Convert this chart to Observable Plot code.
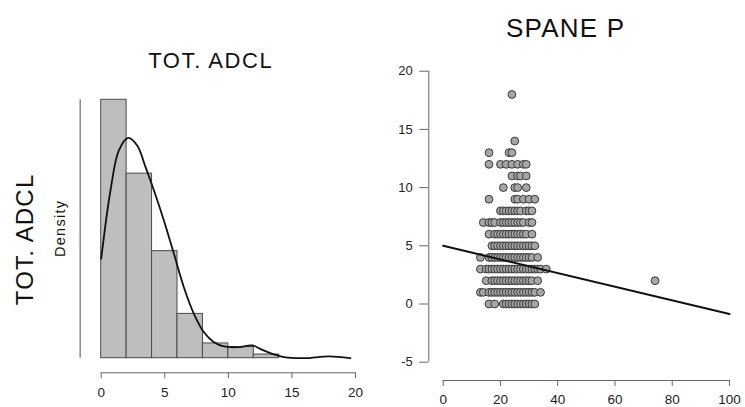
<!DOCTYPE html>
<html><head><meta charset="utf-8">
<script src="https://cdn.jsdelivr.net/npm/d3@7"></script>
<script src="https://cdn.jsdelivr.net/npm/@observablehq/plot@0.6"></script>
<style>
body{margin:0;background:#fff;}
#wrap{position:relative;width:745px;height:407px;overflow:hidden;font-family:"Liberation Sans",Arial,sans-serif;color:#111;background:#fff;}
.lbl{position:absolute;white-space:nowrap;line-height:1;}
#left,#right{position:absolute;top:0;}
</style></head><body>
<div id="wrap">
  <div id="left" style="left:0"></div>
  <div id="right" style="left:370px"></div>
  <div class="lbl" style="left:210px;top:61px;font-size:22px;letter-spacing:1.6px;padding-left:1.6px;transform:translate(-50%,-50%)">TOT. ADCL</div>
  <div class="lbl" style="left:565px;top:27.5px;font-size:26px;letter-spacing:1.2px;padding-left:1.2px;transform:translate(-50%,-50%)">SPANE P</div>
  <div class="lbl" style="left:25px;top:240px;font-size:24px;letter-spacing:1.2px;padding-left:1.2px;transform:translate(-50%,-50%) rotate(-90deg)">TOT. ADCL</div>
  <div class="lbl" style="left:60px;top:229px;font-size:14.5px;letter-spacing:1.3px;padding-left:1.3px;transform:translate(-50%,-50%) rotate(-90deg)">Density</div>
</div>
<script>
// Histogram of TOT. ADCL
const histEdges = [0, 2, 4, 6, 8, 10, 12, 14];
const histCounts = [70, 50, 29, 12, 4, 3, 1];
const histTicks = [0, 5, 10, 15, 20];
// Kernel density curve
const densX = [0, 0.73, 1.39, 2.12, 2.83, 3.49, 4.15, 4.93, 5.72, 6.5, 7.29, 8.08, 8.87, 9.65, 10.7, 11.9, 12.5, 13.3, 14.4, 16, 17.9, 19.6];
const densY = [0.0797, 0.1344, 0.1665, 0.1766, 0.1705, 0.1531, 0.1344, 0.1104, 0.0837, 0.0569, 0.0356, 0.0208, 0.0128, 0.0094, 0.0088, 0.0102, 0.0075, 0.0040, 0.0008, 0.0000, 0.0014, 0.0000];

// Scatter SPANE P (rows of points by y value)
const spaneRowY = [18, 14, 13, 12, 11, 10, 9, 8, 7, 6, 5, 4, 3, 2, 1, 0];
const spaneRowX = [
  [24],
  [25],
  [16, 23, 24],
  [16, 20, 22, 24, 26, 28, 29],
  [24, 26, 27, 29],
  [21, 25, 26, 29],
  [16, 25, 26, 28, 30, 32],
  [20, 21, 22, 23, 24, 25, 26, 27, 29, 30, 31],
  [14, 16, 17, 18, 20, 21, 22, 23, 24, 25, 26, 27, 28, 30, 31],
  [16, 18, 19, 20, 21, 22, 23, 24, 25, 26, 27, 28, 29, 31],
  [17, 18, 19, 20, 21, 22, 23, 24, 25, 26, 27, 28, 29, 30, 31, 32],
  [13, 16, 17, 18, 19, 20, 21, 22, 23, 24, 25, 26, 27, 28, 29, 30, 31, 33],
  [13, 15, 16, 17, 18, 19, 20, 21, 22, 23, 24, 25, 26, 27, 28, 29, 30, 31, 32, 33, 34, 36],
  [15, 17, 18, 19, 20, 21, 22, 23, 24, 25, 26, 27, 28, 29, 30, 31, 33],
  [13, 14, 16, 17, 18, 19, 20, 21, 22, 23, 24, 25, 26, 27, 28, 29, 30, 31, 32, 34],
  [16, 18, 21, 22, 23, 24, 25, 26, 27, 28, 29, 30, 31, 32]
];
const outlierX = [74];
const outlierY = [2];
const fitX = [0, 100];
const fitY = [5.0, -0.86];
const spaneXTicks = [0, 20, 40, 60, 80, 100];
const spaneYTicks = [-5, 0, 5, 10, 15, 20];

const font = "Liberation Sans, Arial, sans-serif";
const total = d3.sum(histCounts);
const bins = histCounts.map((c, i) => ({x1: histEdges[i], x2: histEdges[i + 1], d: c / (total * (histEdges[i + 1] - histEdges[i]))}));
const curve = densX.map((x, i) => ({x, y: densY[i]}));

const left = Plot.plot({
  width: 370, height: 407,
  marginLeft: 100.7, marginRight: 15, marginTop: 99.3, marginBottom: 49.3,
  style: {fontFamily: font, background: "transparent", color: "#222", overflow: "visible"},
  x: {domain: [0, 20], axis: null},
  y: {domain: [0, d3.max(bins, b => b.d)], axis: null},
  marks: [
    Plot.rect(bins, {x1: "x1", x2: "x2", y1: () => 0, y2: "d", fill: "#bebebe", stroke: "#4a4a4a", strokeWidth: 1}),
    Plot.line(curve, {x: "x", y: "y", curve: "catmull-rom", stroke: "#111", strokeWidth: 1.8}),
    Plot.ruleX([0], {dx: -21, stroke: "#8a8a8a", strokeWidth: 1.5}),
    Plot.ruleY([0], {dy: 14.6, stroke: "#666"}),
    Plot.axisX(histTicks, {anchor: "bottom", tickSize: 6, tickPadding: 9, dy: 14.6, fontSize: 13.5, stroke: "#666", fill: "#222", label: null, tickFormat: d => String(d)})
  ]
});
document.getElementById("left").appendChild(left);

const pts = [];
spaneRowY.forEach((y, i) => spaneRowX[i].forEach(x => pts.push({x, y})));
outlierX.forEach((x, i) => pts.push({x, y: outlierY[i]}));
const fit = fitX.map((x, i) => ({x, y: fitY[i]}));

const right = Plot.plot({
  width: 375, height: 407,
  marginLeft: 72.7, marginRight: 16, marginTop: 70.7, marginBottom: 45.3,
  style: {fontFamily: font, background: "transparent", color: "#222", overflow: "visible"},
  x: {domain: [0, 100], axis: null},
  y: {domain: [-5, 20], axis: null},
  marks: [
    Plot.dot(pts, {x: "x", y: "y", r: 3.9, fill: "#a6a6a6", stroke: "#3a3a3a", strokeWidth: 1}),
    Plot.line(fit, {x: "x", y: "y", stroke: "#111", strokeWidth: 2}),
    Plot.ruleY([-5], {dy: 18.3, stroke: "#666"}),
    Plot.ruleX([0], {dx: -14.4, stroke: "#666"}),
    Plot.axisX(spaneXTicks, {anchor: "bottom", tickSize: 6, tickPadding: 8, dy: 18.3, fontSize: 13.5, stroke: "#666", fill: "#222", label: null, tickFormat: d => String(d)}),
    Plot.axisY(spaneYTicks, {anchor: "left", tickSize: 9, tickPadding: 7, dx: -14.4, fontSize: 13, stroke: "#666", fill: "#222", label: null, tickFormat: d => String(d)})
  ]
});
document.getElementById("right").appendChild(right);
</script>
</body></html>
